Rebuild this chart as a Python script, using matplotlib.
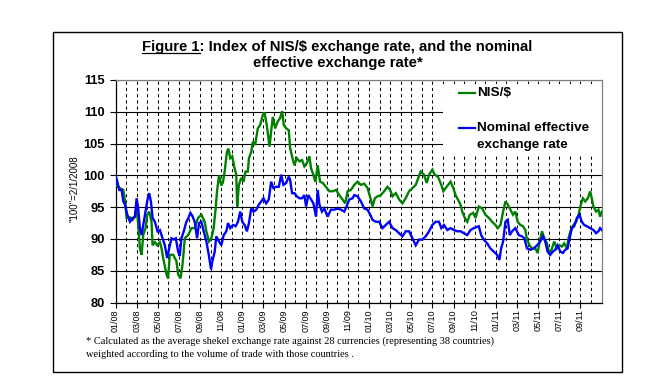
import matplotlib
matplotlib.use("Agg")
import matplotlib.pyplot as plt
from matplotlib.patches import Rectangle
from matplotlib.lines import Line2D

# ---- data (x = months since 01/2008, y = index, "100" = 2/1/2008) ----
nis_months = [0.00, 0.11, 0.40, 0.74, 0.90, 1.05, 1.37, 1.62, 1.84, 2.00, 2.15, 2.31, 2.47, 2.63, 2.85,
              3.00, 3.19, 3.41, 3.51, 3.73, 3.95, 4.20, 4.36, 4.51, 4.83, 4.98, 5.14, 5.46, 5.77, 5.93,
              6.15, 6.34, 6.56, 6.87, 7.19, 7.50, 7.81, 8.13, 8.44, 8.60, 8.85, 9.07, 9.29, 9.48, 9.61,
              9.80, 10.02, 10.17, 10.33, 10.55, 10.68, 10.86, 11.05, 11.27, 11.43, 11.52, 11.68, 11.90,
              12.12, 12.31, 12.53, 12.63, 12.85, 13.00, 13.22, 13.47, 13.69, 13.95, 14.10, 14.32, 14.58,
              14.73, 14.89, 15.11, 15.36, 15.58, 15.77, 15.93, 16.15, 16.40, 16.53, 16.71, 16.93, 17.16,
              17.41, 17.66, 17.88, 18.10, 18.35, 18.51, 18.73, 18.92, 19.14, 19.36, 19.62, 19.92, 20.24,
              20.55, 20.87, 21.18, 21.49, 21.75, 21.97, 22.28, 22.60, 22.91, 23.23, 23.54, 23.86, 24.17,
              24.33, 24.55, 24.80, 25.12, 25.43, 25.74, 26.00, 26.22, 26.53, 26.85, 27.16, 27.47, 27.79,
              28.10, 28.42, 28.64, 28.89, 29.20, 29.46, 29.68, 29.99, 30.21, 30.52, 30.84, 31.03, 31.34,
              31.72, 31.97, 32.19, 32.41, 32.66, 32.82, 33.07, 33.29, 33.54, 33.86, 34.08, 34.39, 34.71,
              35.02, 35.34, 35.65, 35.96, 36.18, 36.44, 36.69, 36.91, 37.13, 37.38, 37.63, 37.85, 38.07,
              38.32, 38.57, 38.79, 38.95, 39.20, 39.42, 39.74, 39.96, 40.15, 40.37, 40.59, 40.84, 41.09,
              41.31, 41.53, 41.78, 42.03, 42.25, 42.47, 42.73, 42.88, 43.10, 43.35, 43.61, 43.83, 44.05,
              44.24, 44.46, 44.71, 44.93, 45.08, 45.24, 45.49, 45.71, 45.87, 46.03]
nis_values = [100.0, 98.4, 98.0, 97.7, 96.0, 93.3, 93.4, 93.0, 93.5, 95.0, 92.2, 88.5, 87.5, 90.7, 91.7,
              93.8, 94.3, 92.7, 89.0, 89.5, 89.0, 89.5, 88.5, 87.0, 84.4, 83.8, 87.5, 87.5, 86.5, 84.4,
              83.8, 85.9, 90.1, 90.6, 91.7, 91.7, 93.3, 93.8, 92.7, 91.2, 89.6, 90.1, 91.7, 94.8, 97.5,
              100.0, 98.4, 98.9, 100.6, 103.7, 104.2, 102.7, 103.0, 101.1, 100.1, 95.1, 98.5, 99.6,
              99.0, 100.6, 100.6, 102.7, 103.7, 105.3, 104.8, 107.4, 107.9, 109.5, 109.9, 107.9, 104.5,
              106.9, 109.2, 107.4, 108.5, 109.0, 110.1, 107.9, 107.4, 107.1, 104.3, 103.0, 101.6, 102.7,
              102.2, 102.4, 101.4, 101.9, 103.0, 101.1, 100.1, 99.0, 101.6, 99.0, 98.8, 98.2, 97.5,
              97.5, 97.7, 96.9, 96.2, 95.6, 97.5, 97.7, 98.5, 99.0, 98.5, 98.7, 98.0, 96.2,
              95.1, 96.4, 96.7, 96.9, 97.5, 98.2, 97.7, 96.7, 97.2, 96.2, 95.6, 96.4, 97.5,
              98.0, 98.5, 99.5, 100.6, 100.1, 98.8, 100.1, 100.9, 100.1, 99.8, 98.5, 97.5, 98.2,
              99.0, 98.0, 96.9, 96.2, 95.4, 94.3, 93.3, 92.7, 93.8, 94.1, 93.3, 95.1, 94.8,
              93.8, 93.3, 92.7, 92.2, 91.7, 92.2, 94.3, 95.9, 95.4, 94.6, 93.8, 94.3, 92.7,
              92.2, 92.0, 91.4, 89.9, 89.0, 88.5, 88.5, 87.8, 89.6, 91.2, 90.1, 89.3, 87.5,
              88.5, 89.6, 88.5, 89.0, 88.8, 89.3, 88.5, 90.1, 91.4, 92.2, 92.7, 93.8, 95.4,
              96.4, 95.9, 96.4, 97.5, 96.4, 95.1, 94.3, 94.6, 93.5, 94.3]

neer_months = [0.00, 0.17, 0.36, 0.58, 0.74, 0.90, 1.12, 1.37, 1.62, 1.84, 2.00, 2.15, 2.31, 2.47, 2.63,
               2.85, 3.03, 3.19, 3.35, 3.51, 3.73, 3.98, 4.20, 4.45, 4.67, 4.89, 5.08, 5.30, 5.52, 5.71,
               5.93, 6.08, 6.24, 6.46, 6.71, 6.90, 7.09, 7.28, 7.50, 7.72, 7.91, 8.13, 8.35, 8.60, 8.85,
               9.04, 9.17, 9.39, 9.54, 9.80, 10.02, 10.24, 10.49, 10.65, 10.86, 11.12, 11.37, 11.59,
               11.81, 12.00, 12.22, 12.44, 12.63, 12.85, 13.07, 13.32, 13.57, 13.79, 14.01, 14.26, 14.51,
               14.73, 14.95, 15.20, 15.46, 15.68, 15.90, 16.15, 16.40, 16.53, 16.71, 16.93, 17.16, 17.41,
               17.66, 17.88, 18.04, 18.26, 18.51, 18.73, 18.98, 19.14, 19.30, 19.54, 19.76, 20.08, 20.39,
               20.71, 21.02, 21.34, 21.65, 21.87, 22.12, 22.44, 22.60, 22.91, 23.23, 23.54, 23.86, 24.11,
               24.33, 24.64, 24.96, 25.27, 25.59, 25.90, 26.22, 26.53, 26.85, 27.16, 27.47, 27.79, 28.10,
               28.42, 28.73, 29.05, 29.36, 29.68, 29.99, 30.30, 30.62, 30.84, 31.09, 31.41, 31.72, 32.03,
               32.35, 32.66, 32.98, 33.29, 33.61, 33.92, 34.39, 34.61, 34.86, 35.18, 35.49, 35.81, 36.12,
               36.34, 36.50, 36.69, 36.91, 37.13, 37.32, 37.54, 37.85, 38.17, 38.48, 38.70, 38.95, 39.27,
               39.58, 39.90, 40.21, 40.46, 40.68, 40.90, 41.15, 41.40, 41.62, 41.85, 42.10, 42.35, 42.57,
               42.79, 42.98, 43.20, 43.42, 43.67, 43.92, 44.14, 44.36, 44.61, 44.93, 45.24, 45.49, 45.71,
               45.87, 46.03]
neer_values = [100.0, 99.0, 97.7, 97.7, 95.9, 95.4, 93.8, 92.7, 93.3, 93.5, 96.4, 94.8, 91.7, 90.6, 92.2,
               94.3, 96.2, 97.2, 95.9, 93.3, 92.7, 91.2, 91.4, 90.1, 89.0, 87.0, 88.5, 90.1, 89.9, 90.1,
               88.0, 87.3, 90.1, 91.2, 92.7, 93.3, 94.1, 93.6, 92.7, 90.1, 92.5, 92.7, 91.2, 89.6, 87.3,
               85.2, 86.5, 88.0, 90.4, 89.6, 89.0, 90.6, 91.2, 92.5, 91.7, 92.2, 92.0, 92.7,
               94.3, 92.7, 92.2, 91.2, 92.5, 94.8, 94.3, 94.6, 95.4, 95.9, 96.4, 95.6, 96.2,
               99.0, 98.0, 98.2, 98.2, 100.1, 98.5, 98.8, 99.8, 99.3, 97.2, 97.2, 96.7, 96.4,
               96.4, 96.9, 95.1, 96.9, 96.2, 95.6, 93.5, 97.7, 95.4, 94.3, 94.8, 93.5, 94.6,
               94.6, 94.8, 94.6, 94.3, 95.1, 96.2, 96.4, 96.9, 96.7, 95.9, 94.8, 94.6, 93.8,
               93.0, 92.7, 92.7, 91.7, 92.2, 92.7, 91.7, 91.4, 90.9, 90.4, 91.2, 91.2, 90.1,
               89.0, 89.9, 89.9, 90.4, 91.2, 92.2, 92.7, 92.7, 91.7, 92.2, 91.4, 91.7, 91.4,
               91.2, 91.2, 90.9, 90.6, 91.4, 91.7, 92.0, 90.6, 89.9, 89.3, 88.5, 88.0, 87.5,
               86.7, 88.5, 89.6, 92.7, 93.0, 90.6, 91.2, 91.7, 90.6, 90.4, 90.1, 88.5, 88.3,
               88.5, 89.0, 89.6, 90.4, 89.6, 88.0, 87.5, 88.0, 88.3, 89.0, 88.0, 87.8, 88.3,
               88.5, 90.1, 91.7, 92.0, 93.3, 93.8, 92.7, 92.2, 92.0, 91.7, 91.4, 90.9, 91.2,
               91.7, 91.4]

tick_labels = ["01/08", "03/08", "05/08", "07/08", "09/08", "11/08",
               "01/09", "03/09", "05/09", "07/09", "09/09", "11/09",
               "01/10", "03/10", "05/10", "07/10", "09/10", "11/10",
               "01/11", "03/11", "05/11", "07/11", "09/11"]
y_ticks = [80, 85, 90, 95, 100, 105, 110, 115]

series_names = ["NIS/$", "Nominal effective", "exchange rate"]
title_line1 = "Figure 1: Index of NIS/$ exchange rate, and the nominal"
title_line2 = "effective exchange rate*"
title_underlined = "Figure 1"
footnote1 = "* Calculated as the average shekel exchange rate against 28 currencies (representing 38 countries)"
footnote2 = "weighted according to the volume of trade with those countries ."
ylabel = '"100"=2/1/2008'

GREEN = "#008000"
BLUE = "#0000ff"
SANS = "Liberation Sans"
SERIF = "Liberation Serif"

W, H = 651, 389
fig = plt.figure(figsize=(W / 100, H / 100), dpi=100)
fig.patch.set_facecolor("white")


def fx(px):
    return px / W


def fy(py):
    return 1 - py / H


left, right, top, bottom = 115.5, 602.0, 80.0, 302.5
ax = fig.add_axes([fx(left), fy(bottom), fx(right) - fx(left), fy(top) - fy(bottom)])
xmax = 46.05
ax.set_xlim(0, xmax)
ax.set_ylim(80, 115)
ax.set_axisbelow(True)

major = list(range(0, 2 * len(tick_labels), 2))
minor = [m for m in range(1, 47) if m % 2 == 1 and m < xmax]
ax.set_xticks(major)
ax.set_xticklabels(tick_labels, rotation=90, fontsize=6.5, family=SANS)
ax.set_xticks(minor, minor=True)
ax.tick_params(axis="x", which="major", direction="out", length=3.5, width=0.8, pad=1.5, color="black")
ax.tick_params(axis="x", which="minor", length=0)
ax.xaxis.grid(True, which="both", color="black", lw=0.75, linestyle=(0, (3, 3)))

ax.set_yticks(y_ticks)
ax.set_yticklabels([str(v) for v in y_ticks], fontsize=9.3, fontweight="bold", family=SANS)
ax.tick_params(axis="y", direction="out", length=4, width=0.8, pad=4, color="black")
ax.yaxis.grid(True, color="black", lw=0.8, linestyle="-")

ax.spines["left"].set_color("black")
ax.spines["bottom"].set_color("black")
ax.spines["top"].set_color("#808080")
ax.spines["right"].set_color("#808080")
for s in ax.spines.values():
    s.set_linewidth(0.9)

# white legend area covering grid
ax.add_patch(Rectangle((31.03, 103.36), xmax - 31.03, 114.4 - 103.36,
                       facecolor="white", edgecolor="none", zorder=1.5))

ax.plot(nis_months, nis_values, color=GREEN, lw=1.7, zorder=3, solid_joinstyle="miter")
ax.plot(neer_months, neer_values, color=BLUE, lw=1.7, zorder=3, solid_joinstyle="miter")

# legend
fig.add_artist(Line2D([fx(459), fx(475)], [fy(93.3)] * 2, color=GREEN, lw=1.6))
fig.add_artist(Line2D([fx(459), fx(475)], [fy(128.3)] * 2, color=BLUE, lw=1.6))
fig.text(fx(477.5), fy(93.3), series_names[0], ha="left", va="center",
         fontsize=9.7, fontweight="bold", family=SANS)
fig.text(fx(477.5), fy(128.3), series_names[1], ha="left", va="center",
         fontsize=9.7, fontweight="bold", family=SANS)
fig.text(fx(477.5), fy(144.5), series_names[2], ha="left", va="center",
         fontsize=9.7, fontweight="bold", family=SANS)

# y label
fig.text(fx(75), fy(189), ylabel, rotation=90, ha="center", va="center", fontsize=7, family=SANS)

# title
tprops = dict(fontsize=10.7, fontweight="bold", family=SANS)
t1 = fig.text(fx(337.5), fy(46.5), title_line1, ha="center", va="center", **tprops)
fig.text(fx(337.5), fy(63.5), title_line2, ha="center", va="center", **tprops)

# footnote
fig.text(fx(86), fy(341.5), footnote1, ha="left", va="center", fontsize=7.5, family=SERIF)
fig.text(fx(86), fy(354.5), footnote2, ha="left", va="center", fontsize=7.5, family=SERIF)

# outer frame
fig.add_artist(Rectangle((fx(53), fy(372)), fx(622) - fx(53), fy(32) - fy(372),
                         transform=fig.transFigure, fill=False, edgecolor="black", lw=1.0))

# underline "Figure 1"
fig.canvas.draw()
r = fig.canvas.get_renderer()
bb = t1.get_window_extent(r)
tmp = fig.text(0, 0, title_underlined, **tprops)
wu = tmp.get_window_extent(r).width
tmp.remove()
uy = bb.y0 + 1.0
fig.add_artist(Line2D([bb.x0 / W, (bb.x0 + wu) / W], [uy / H, uy / H], color="black", lw=0.9))

fig.savefig("out.png", dpi=100, facecolor="white")
